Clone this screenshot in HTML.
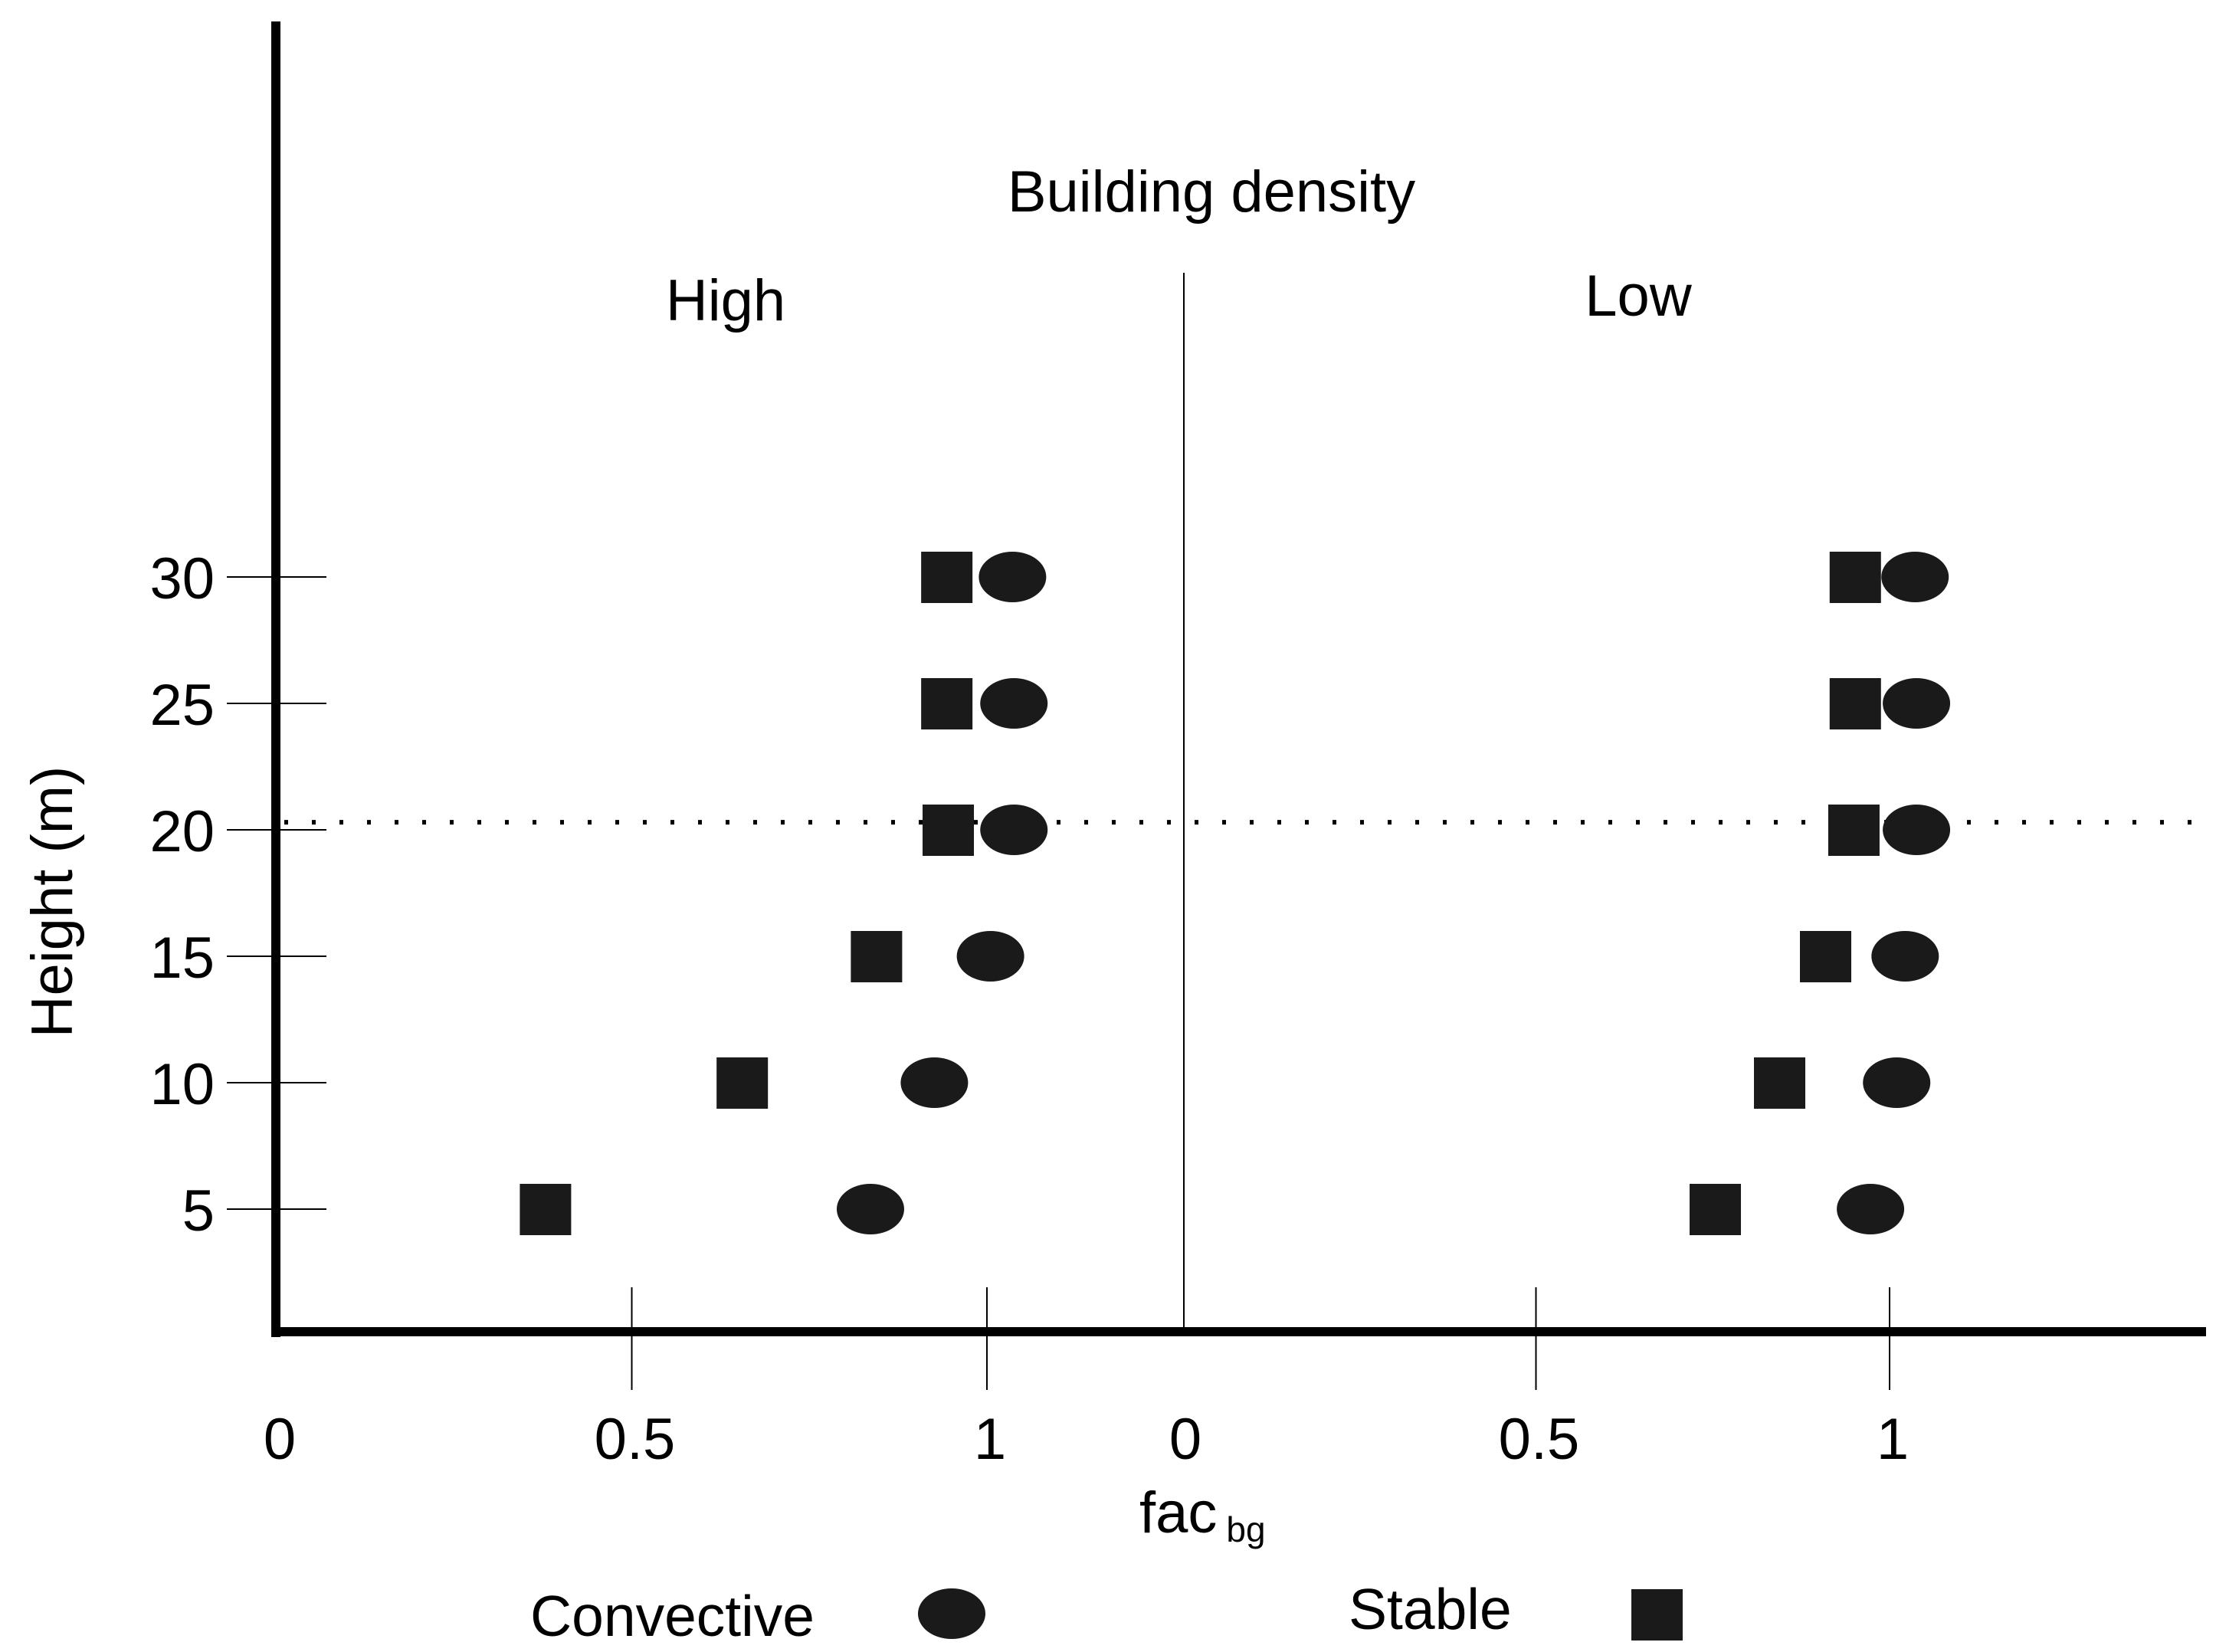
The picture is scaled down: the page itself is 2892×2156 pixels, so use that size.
<!DOCTYPE html>
<html><head><meta charset="utf-8"><style>
html,body{margin:0;padding:0;background:#fff;}
svg{display:block;font-family:"Liberation Sans",sans-serif;}
</style></head><body>
<svg id="chart" width="2892" height="2156" viewBox="0 0 2892 2156" xmlns="http://www.w3.org/2000/svg">
<rect width="2892" height="2156" fill="#fff"/>
<g id="marks"></g>
<line x1="360" y1="28" x2="360" y2="1745" stroke="#000" stroke-width="12"/>
<line x1="354" y1="1738" x2="2879" y2="1738" stroke="#000" stroke-width="12"/>
<line x1="1545" y1="356" x2="1545" y2="1738" stroke="#000" stroke-width="2"/>
<text x="1581" y="276" font-size="76" text-anchor="middle">Building density</text>
<text x="947" y="418" font-size="76" text-anchor="middle">High</text>
<text x="2138" y="412" font-size="76" text-anchor="middle">Low</text>
<text transform="translate(94,1177) rotate(-90)" font-size="76" text-anchor="middle">Height (m)</text>
<text x="1487" y="2000" font-size="76">fac<tspan font-size="46" dx="12" dy="12">bg</tspan></text>
<text x="692" y="2135" font-size="75">Convective</text>
<ellipse cx="1242" cy="2106" rx="44" ry="33" fill="#1a1a1a"/>
<text x="1760" y="2126" font-size="75">Stable</text>
<rect x="2129" y="2074" width="67" height="67" fill="#1a1a1a"/>
</svg>
<script>
const heights = [5, 10, 15, 20, 25, 30];
const yTickLabels = ["5", "10", "15", "20", "25", "30"];
const xTickValues = [0, 0.5, 1];
const xTickLabels = ["0", "0.5", "1"];
const highStable = [0.378, 0.655, 0.844, 0.945, 0.943, 0.943];
const highConvective = [0.836, 0.926, 1.005, 1.038, 1.038, 1.036];
const lowStable = [0.753, 0.844, 0.909, 0.949, 0.951, 0.951];
const lowConvective = [0.973, 1.01, 1.022, 1.038, 1.038, 1.036];
const referenceHeight = 20.3;

const NS = "http://www.w3.org/2000/svg";
const marks = document.getElementById("marks");
function yScale(v){ return 1578 - (v - 5) * 33.0; }
function xLeft(v){ return 361 + v * 927; }
function xRight(v){ return 1543 + v * 923; }
function mk(tag, attrs){
  const e = document.createElementNS(NS, tag);
  for (const k in attrs) e.setAttribute(k, attrs[k]);
  marks.appendChild(e);
  return e;
}
heights.forEach((h, i) => {
  const y = yScale(h);
  const t = mk("line", {x1: 296, x2: 426, y1: y, y2: y, stroke: "#000", "stroke-width": 2});
  
  
  const l = mk("text", {x: 280, y: y + 28, "font-size": 76, "text-anchor": "end"});
  l.textContent = yTickLabels[i];
  
  
});
[["high", xLeft], ["low", xRight]].forEach(([p, fx]) => {
  xTickValues.forEach((v, i) => {
    const x = fx(v);
    if (v > 0) {
      const t = mk("line", {x1: x, x2: x, y1: 1680, y2: 1814, stroke: "#000", "stroke-width": 2});
      
      
    }
    const l = mk("text", {x: x + 4, y: 1904, "font-size": 76, "text-anchor": "middle"});
    l.textContent = xTickLabels[i];
    
    
  });
});
const ref = mk("line", {x1: 371, x2: 2870, y1: yScale(referenceHeight), y2: yScale(referenceHeight), stroke: "#000", "stroke-width": 6, "stroke-dasharray": "5 31"});


function squares(vals, fx, name){
  vals.forEach((v, i) => {
    const r = mk("rect", {x: fx(v) - 33, y: yScale(heights[i]) - 33, width: 67, height: 67, fill: "#1a1a1a"});
    
    
  });
}
function ellipses(vals, fx, name){
  vals.forEach((v, i) => {
    const e = mk("ellipse", {cx: fx(v), cy: yScale(heights[i]), rx: 44, ry: 33, fill: "#1a1a1a"});
    
    
  });
}
squares(highStable, xLeft, "high-stable-point");
ellipses(highConvective, xLeft, "high-convective-point");
squares(lowStable, xRight, "low-stable-point");
ellipses(lowConvective, xRight, "low-convective-point");
</script>
</body></html>
